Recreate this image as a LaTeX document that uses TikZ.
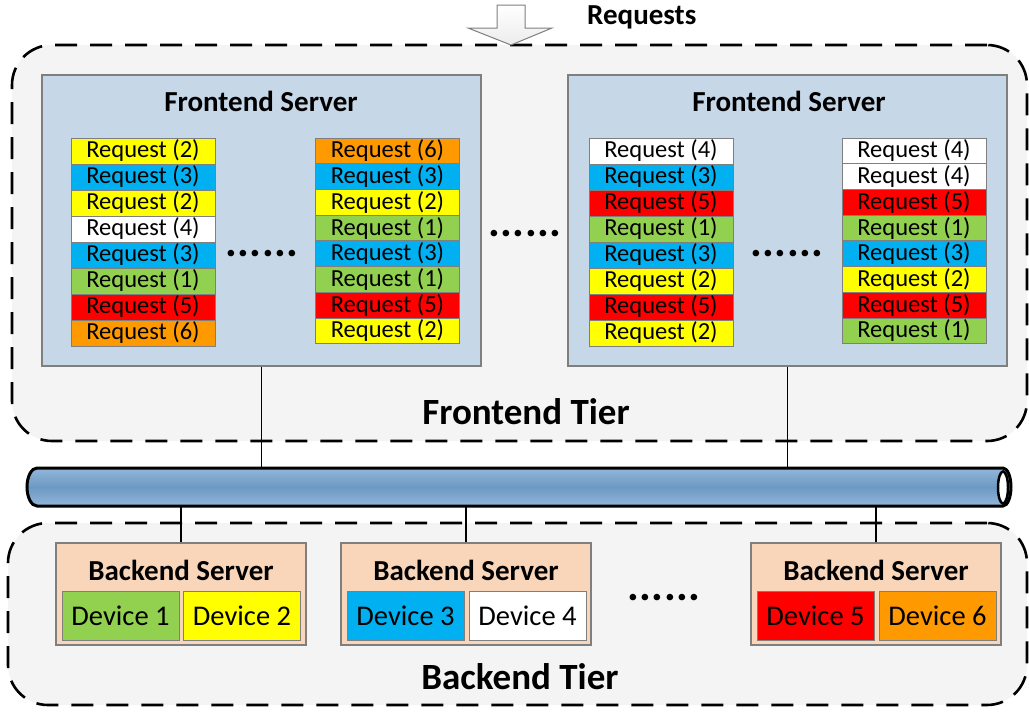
\documentclass[tikz,border=0pt]{standalone}
\usepackage{fontspec}
\setmainfont{Carlito}
\usetikzlibrary{calc}
\definecolor{c1}{HTML}{92D050}
\definecolor{c2}{HTML}{FFFF00}
\definecolor{c3}{HTML}{00B0F0}
\definecolor{c4}{HTML}{FFFFFF}
\definecolor{c5}{HTML}{FF0000}
\definecolor{c6}{HTML}{FF9900}
\definecolor{fsfill}{HTML}{C6D7E8}
\definecolor{bsfill}{HTML}{F9D6BA}
\definecolor{boxline}{HTML}{7F7F7F}
\definecolor{tierfill}{HTML}{F4F4F4}
\definecolor{busl}{HTML}{93B6DA}
\definecolor{busd}{HTML}{6C99C4}
\newcommand\dotsix{\fontsize{44}{44}\selectfont\bfseries .\kern0.6pt.\kern0.6pt.\kern0.6pt.\kern0.6pt.\kern0.6pt.}
\tikzset{
  tier/.style={draw=black, line width=2.6pt, dash pattern=on 22pt off 13pt, rounded corners=40pt, fill=tierfill, inner sep=0pt},
  fserver/.style={draw=boxline, line width=1.2pt, fill=fsfill, inner sep=0pt},
  bserver/.style={draw=boxline, line width=1.2pt, fill=bsfill, inner sep=0pt, minimum width=250pt, minimum height=102pt},
  req/.style={draw=boxline, line width=1pt, inner sep=0pt, minimum width=144pt, font=\fontsize{24.5}{24.5}\selectfont},
  dev/.style={draw=boxline, line width=1pt, inner sep=0pt, minimum width=117pt, minimum height=49pt, font=\fontsize{28.5}{28.5}\selectfont},
  ttl/.style={inner sep=0pt, font=\fontsize{29}{29}\selectfont\bfseries},
  tiertitle/.style={inner sep=0pt, font=\fontsize{37}{37}\selectfont\bfseries},
  conn/.style={draw=black, line width=1.8pt},
  dotsn/.style={inner sep=0pt}
}
\newcommand\reqcol[5]{% name, x, y0, step, list
  \foreach \n [count=\i] in {#5} {
    \node[req, minimum height=#4pt, fill=c\n] (#1-\i) at (#2, {#3+#4*(\i-1)}) {Request (\n)};
  }
}
\begin{document}
\begin{tikzpicture}[x=1pt,y=-1pt]
\useasboundingbox (0,0) rectangle (1029,712);
% tiers
\node[tier, minimum width=1015pt, minimum height=396pt] (ftier) at (519.5,243) {};
\node[tier, minimum width=1019pt, minimum height=182pt] (btier) at (517.5,614) {};
% request arrow
\path[draw=boxline, line width=1pt, top color=white, bottom color=gray!15]
  (497,5) -- (525,5) -- (525,28) -- (552,28) -- (511,45) -- (468,28) -- (497,28) -- cycle;
\node[ttl, anchor=west] (reqtext) at (587,17) {Requests};
% frontend servers
\node[fserver, minimum width=439pt, minimum height=291pt] (fs1) at (261.5,220.5) {};
\node[fserver, minimum width=439pt, minimum height=291pt] (fs2) at (787.5,220.5) {};
\node[ttl] (fs1t) at (261,101) {Frontend Server};
\node[ttl] (fs2t) at (789,101) {Frontend Server};
\reqcol{ca}{143}{151}{26}{2,3,2,4,3,1,5,6}
\reqcol{cb}{387.5}{151}{25.7}{6,3,2,1,3,1,5,2}
\reqcol{cc}{661}{151}{26}{4,3,5,1,3,2,5,2}
\reqcol{cd}{914}{151}{25.7}{4,4,5,1,3,2,5,1}
\node[dotsn, anchor=base] (d1) at (262,256) {\dotsix};
\node[dotsn, anchor=base] (d2) at (525,236) {\dotsix};
\node[dotsn, anchor=base] (d3) at (787,256) {\dotsix};
\node[tiertitle] (ftt) at (526,412) {Frontend Tier};
% bus
\path[draw=black, line width=3pt, top color=busl, bottom color=busl, middle color=busd]
  (37,468) -- (1003,468) arc[start angle=-90, end angle=90, x radius=8, y radius=19]
  -- (37,506) arc[start angle=90, end angle=270, x radius=10, y radius=19] -- cycle;
\draw[line width=2.5pt, fill=white] (1003,487.5) ellipse [x radius=5, y radius=16];
\node[inner sep=0pt, minimum width=985pt, minimum height=38pt] (bus) at (519.5,487) {};
% connectors frontend
\draw[conn] (fs1.south) -- (fs1.south |- bus.north);
\draw[conn] (fs2.south) -- (fs2.south |- bus.north);
% backend servers
\node[bserver] (bs1) at (181,594) {};
\node[bserver] (bs2) at (466,594) {};
\node[bserver] (bs3) at (876,594) {};
\node[ttl] (bs1t) at (181,570) {Backend Server};
\node[ttl] (bs2t) at (466,570) {Backend Server};
\node[ttl] (bs3t) at (876,570) {Backend Server};
\node[dev, fill=c1] (dv1) at (120.5,615.5) {Device 1};
\node[dev, fill=c2] (dv2) at (242,615.5) {Device 2};
\node[dev, fill=c3] (dv3) at (405.5,615.5) {Device 3};
\node[dev, fill=c4] (dv4) at (527.5,615.5) {Device 4};
\node[dev, fill=c5] (dv5) at (815.5,615.5) {Device 5};
\node[dev, fill=c6] (dv6) at (937.5,615.5) {Device 6};
\node[dotsn, anchor=base] (d4) at (664,600) {\dotsix};
\draw[conn] (bs1.north) -- (bs1.north |- bus.south);
\draw[conn] (bs2.north) -- (bs2.north |- bus.south);
\draw[conn] (bs3.north) -- (bs3.north |- bus.south);
\node[tiertitle] (btt) at (520,677) {Backend Tier};
\end{tikzpicture}
\end{document}
